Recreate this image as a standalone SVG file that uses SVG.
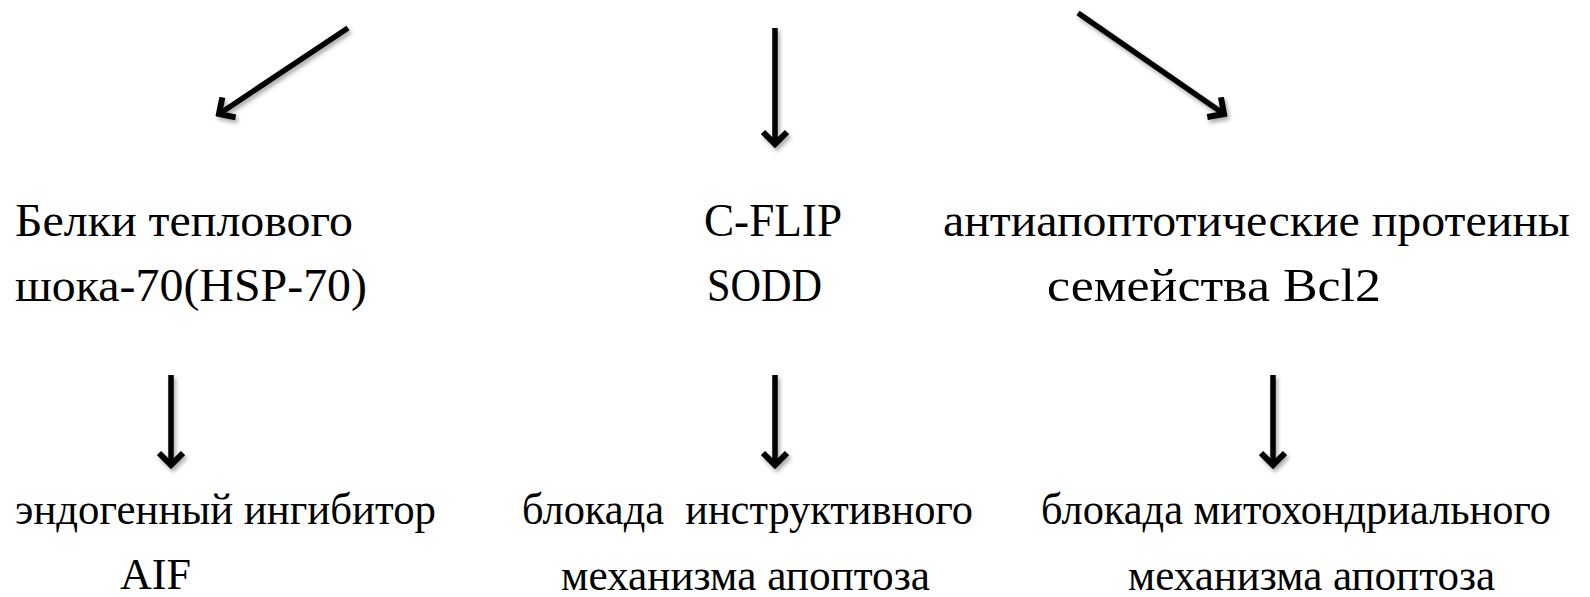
<svg xmlns="http://www.w3.org/2000/svg" width="1590" height="597" viewBox="0 0 1590 597">
  <defs>
    <filter id="shadow" x="-20%" y="-20%" width="140%" height="140%">
      <feDropShadow dx="2" dy="3" stdDeviation="2" flood-color="#000" flood-opacity="0.35"/>
    </filter>
    <marker id="head" viewBox="-16 -14 20 28" markerWidth="20" markerHeight="28" refX="0" refY="0" markerUnits="userSpaceOnUse" orient="auto">
      <path d="M-12,-12 L0,0 L-12,12" fill="none" stroke="#000" stroke-width="6" stroke-linejoin="miter" stroke-linecap="butt"/>
    </marker>
  </defs>
  <style>
    .arr { stroke: #000; stroke-width: 5.5; fill: none; marker-end: url(#head); }
  </style>
  <rect width="1590" height="597" fill="#fff"/>

  <!-- shadowed arrows between the rows -->
  <g id="connectors" filter="url(#shadow)">
    <line class="arr" x1="348" y1="28" x2="219" y2="114"/>
    <line class="arr" x1="775" y1="28" x2="775" y2="144"/>
    <line class="arr" x1="1078" y1="13" x2="1224" y2="114"/>
    <line class="arr" x1="171" y1="375" x2="171" y2="465"/>
    <line class="arr" x1="775" y1="375" x2="775" y2="465"/>
    <line class="arr" x1="1273" y1="375" x2="1273" y2="465"/>
  </g>

  <g font-family="Liberation Serif, Times New Roman, serif" fill="#000">
    <g id="hsp70" font-size="47">
      <text x="15" y="236" textLength="338" lengthAdjust="spacingAndGlyphs">Белки теплового</text>
      <text x="15" y="301" textLength="352" lengthAdjust="spacingAndGlyphs">шока-70(HSP-70)</text>
    </g>
    <g id="cflip" font-size="47">
      <text x="704" y="236" textLength="138" lengthAdjust="spacingAndGlyphs">C-FLIP</text>
      <text x="707" y="301" textLength="115" lengthAdjust="spacingAndGlyphs">SODD</text>
    </g>
    <g id="bcl2" font-size="47">
      <text x="943" y="236" textLength="627" lengthAdjust="spacingAndGlyphs">антиапоптотические протеины</text>
      <text x="1047" y="301" textLength="334" lengthAdjust="spacingAndGlyphs">семейства Bcl2</text>
    </g>
    <g id="aif" font-size="44">
      <text x="15" y="524" textLength="421" lengthAdjust="spacingAndGlyphs">эндогенный ингибитор</text>
      <text x="120" y="589" textLength="71" lengthAdjust="spacingAndGlyphs">AIF</text>
    </g>
    <g id="instructive" font-size="44">
      <text x="522" y="524" textLength="451" lengthAdjust="spacingAndGlyphs" xml:space="preserve">блокада  инструктивного</text>
      <text x="561" y="590" textLength="369" lengthAdjust="spacingAndGlyphs">механизма апоптоза</text>
    </g>
    <g id="mitochondrial" font-size="44">
      <text x="1041" y="524" textLength="510" lengthAdjust="spacingAndGlyphs">блокада митохондриального</text>
      <text x="1128" y="590" textLength="367" lengthAdjust="spacingAndGlyphs">механизма апоптоза</text>
    </g>
  </g>
</svg>
